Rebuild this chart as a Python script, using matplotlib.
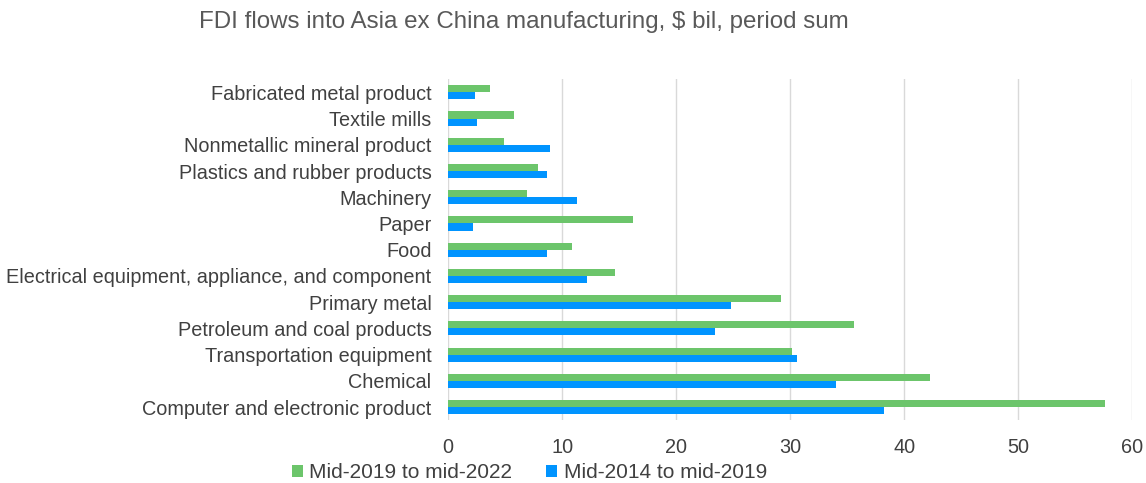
import matplotlib
matplotlib.use("Agg")
import matplotlib.pyplot as plt
import numpy as np

plt.rcParams["font.family"] = ["Liberation Sans", "DejaVu Sans"]

categories = [
    "Computer and electronic product",
    "Chemical",
    "Transportation equipment",
    "Petroleum and coal products",
    "Primary metal",
    "Electrical equipment, appliance, and component",
    "Food",
    "Paper",
    "Machinery",
    "Plastics and rubber products",
    "Nonmetallic mineral product",
    "Textile mills",
    "Fabricated metal product",
]
recent = [57.6, 42.3, 30.2, 35.6, 29.2, 14.6, 10.9, 16.2, 6.9, 7.9, 4.9, 5.8, 3.7]
earlier = [38.2, 34.0, 30.6, 23.4, 24.8, 12.2, 8.7, 2.2, 11.3, 8.7, 8.9, 2.5, 2.4]

green = "#6cc56b"
blue = "#0094ff"
text_c = "#404040"

fig = plt.figure(figsize=(11.46, 4.83), dpi=100)
ax = fig.add_axes([0.391, 0.130, 0.597, 0.706])

y = np.arange(len(categories))
h = 0.27
ax.barh(y + h / 2, recent, height=h, color=green, label="Mid-2019 to mid-2022", zorder=3)
ax.barh(y - h / 2, earlier, height=h, color=blue, label="Mid-2014 to mid-2019", zorder=3)

ax.set_xlim(0, 60)
ax.set_ylim(-0.5, len(categories) - 0.5)
ax.set_xticks(range(0, 61, 10))
ax.set_yticks(y)
ax.set_yticklabels(categories)
ax.tick_params(axis="both", length=0, labelsize=14.3, colors=text_c)
ax.tick_params(axis="x", pad=13)
ax.tick_params(axis="y", pad=12)
ax.grid(axis="x", color="#d9d9d9", linewidth=1, zorder=0)
for s in ax.spines.values():
    s.set_visible(False)

fig.text(0.457, 0.954, "FDI flows into Asia ex China manufacturing, $ bil, period sum",
         ha="center", va="center", fontsize=17.4, color="#595959")

fig.legend(loc="center left", bbox_to_anchor=(0.2548, 0.021), ncol=2, frameon=False,
           fontsize=15, handlelength=0.52, handleheight=0.52, handletextpad=0.3,
           columnspacing=1.65, borderpad=0, borderaxespad=0, labelcolor=text_c)

fig.savefig("out.png", dpi=100)
